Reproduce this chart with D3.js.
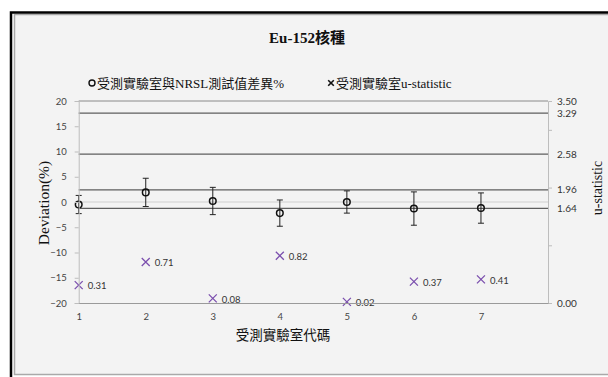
<!DOCTYPE html>
<html>
<head>
<meta charset="utf-8">
<script src="https://cdn.jsdelivr.net/npm/d3@7/dist/d3.min.js"></script>
<style>
  html, body { margin: 0; padding: 0; background: #fff; }
  svg { display: block; }
</style>
</head>
<body>
<svg id="chart" width="608" height="377"></svg>
<script>
// Laboratory codes
const labs = [1, 2, 3, 4, 5, 6, 7];
// Deviation (%) of each lab from the NRSL value, with its uncertainty
const deviation = [-0.5, 1.9, 0.2, -2.2, 0.0, -1.3, -1.2];
const devError = [1.8, 2.8, 2.7, 2.6, 2.2, 3.3, 3.0];
// u-statistic of each lab
const uStat = [0.31, 0.71, 0.08, 0.82, 0.02, 0.37, 0.41];
// Left axis ticks
const devTicks = [-20, -15, -10, -5, 0, 5, 10, 15, 20];
// Reference u-statistic levels drawn as horizontal lines
const uLevels = [3.29, 2.58, 1.96, 1.64];
// Right axis labels
const uLabels = [3.50, 3.29, 2.58, 1.96, 1.64, 0.00];
const uTicks = [0, 1, 2, 3];

const serif = "'Liberation Serif', 'Times New Roman', 'Noto Sans CJK TC', serif";
const sans = "Lato, 'Open Sans', 'Liberation Sans', sans-serif";

const svg = d3.select("#chart");

// Frame
svg.append("rect").attr("x", 14.5).attr("y", 14.5).attr("width", 600).attr("height", 360)
  .attr("fill", "#f3f3f3").attr("stroke", "#a9a9a9").attr("stroke-width", 1.5);
svg.append("path").attr("d", "M11,377 V12.5 H608")
  .attr("fill", "none").attr("stroke", "#000").attr("stroke-width", 2.5);

const x = d3.scaleLinear().domain([1, 8]).range([78.7, 548]);
const y = d3.scaleLinear().domain([-20, 20]).range([303, 101]);
const yU = d3.scaleLinear().domain([0, 3.5]).range([303, 101]);

const plot = svg.append("g");

// Zero gridline
plot.append("line").attr("x1", x(1)).attr("x2", x(8)).attr("y1", y(0)).attr("y2", y(0))
  .attr("stroke", "#cfcfcf").attr("stroke-width", 1);

// Top border of the plot at 3.50
plot.append("line").attr("x1", x(1)).attr("x2", x(8)).attr("y1", yU(3.5)).attr("y2", yU(3.5))
  .attr("stroke", "#8a8a8a").attr("stroke-width", 1);

// u-statistic reference levels
plot.selectAll("line.level").data(uLevels).join("line").attr("class", "level")
  .attr("x1", x(1)).attr("x2", x(8))
  .attr("y1", d => yU(d)).attr("y2", d => yU(d))
  .attr("stroke", "#5e5e5e").attr("stroke-width", 1.1);

// Left axis
const leftAxis = d3.axisLeft(y).tickValues(devTicks).tickSize(4).tickPadding(8);
const gL = svg.append("g").attr("transform", `translate(${x(1)},0)`).call(leftAxis);
gL.select(".domain").attr("stroke", "#bdbdbd");
gL.selectAll(".tick line").attr("stroke", "#bdbdbd");
gL.selectAll(".tick text").attr("font-family", sans).attr("font-size", 9.5).attr("fill", "#444");

// Right axis
const rightAxis = d3.axisRight(yU).tickValues(uTicks).tickSize(4).tickFormat("");
const gR = svg.append("g").attr("transform", `translate(${x(8)},0)`).call(rightAxis);
gR.select(".domain").attr("stroke", "#bdbdbd");
gR.selectAll(".tick line").attr("stroke", "#bdbdbd");
svg.append("g").selectAll("text").data(uLabels).join("text")
  .attr("x", x(8) + 9).attr("y", d => yU(d)).attr("dy", "0.35em")
  .attr("font-family", sans).attr("font-size", 10).attr("fill", "#333")
  .text(d => d.toFixed(2));

// Bottom axis
const bottomAxis = d3.axisBottom(x).tickValues(labs).tickSize(0).tickPadding(10).tickFormat(d3.format("d"));
const gB = svg.append("g").attr("transform", `translate(0,${y(-20)})`).call(bottomAxis);
gB.select(".domain").attr("stroke", "#9a9a9a");
gB.selectAll(".tick text").attr("font-family", sans).attr("font-size", 9.5).attr("fill", "#444");

// Error bars
const errG = plot.append("g").attr("stroke", "#222").attr("stroke-width", 1);
labs.forEach((lab, i) => {
  const cx = x(lab);
  const top = y(deviation[i] + devError[i]);
  const bot = y(deviation[i] - devError[i]);
  errG.append("line").attr("x1", cx).attr("x2", cx).attr("y1", top).attr("y2", bot);
  errG.append("line").attr("x1", cx - 3).attr("x2", cx + 3).attr("y1", top).attr("y2", top);
  errG.append("line").attr("x1", cx - 3).attr("x2", cx + 3).attr("y1", bot).attr("y2", bot);
});

// Deviation markers
plot.selectAll("circle.dev").data(labs).join("circle").attr("class", "dev")
  .attr("cx", d => x(d)).attr("cy", (d, i) => y(deviation[i])).attr("r", 3.3)
  .attr("fill", "none").attr("stroke", "#111").attr("stroke-width", 1.5);

// u-statistic markers and labels
const crossPath = s => `M${-s},${-s}L${s},${s}M${-s},${s}L${s},${-s}`;
plot.selectAll("path.u").data(labs).join("path").attr("class", "u")
  .attr("transform", (d, i) => `translate(${x(d)},${yU(uStat[i])})`)
  .attr("d", crossPath(4)).attr("stroke", "#7b4fae").attr("stroke-width", 1.3).attr("fill", "none");
plot.selectAll("text.ulab").data(labs).join("text").attr("class", "ulab")
  .attr("x", d => x(d) + 9).attr("y", (d, i) => yU(uStat[i]) + 1).attr("dy", "0.35em")
  .attr("font-family", sans).attr("font-size", 9.5).attr("fill", "#333")
  .text((d, i) => uStat[i].toFixed(2));

// Title
svg.append("text").attr("x", 307).attr("y", 43).attr("text-anchor", "middle")
  .attr("font-family", serif).attr("font-size", 15).attr("font-weight", "bold").attr("fill", "#111")
  .text("Eu-152核種");

// Legend
const legend = svg.append("g").attr("font-family", serif).attr("font-size", 13).attr("fill", "#111");
legend.append("circle").attr("cx", 92).attr("cy", 83).attr("r", 3)
  .attr("fill", "none").attr("stroke", "#111").attr("stroke-width", 1.4);
legend.append("text").attr("x", 97).attr("y", 88).text("受測實驗室與NRSL測試值差異%");
legend.append("path").attr("transform", "translate(331,83)").attr("d", crossPath(2.8))
  .attr("stroke", "#111").attr("stroke-width", 1.6);
legend.append("text").attr("x", 336).attr("y", 88).text("受測實驗室u-statistic");

// Axis titles
svg.append("text").attr("transform", "translate(49,203) rotate(-90)").attr("text-anchor", "middle")
  .attr("font-family", serif).attr("font-size", 15.5).attr("fill", "#111").text("Deviation(%)");
svg.append("text").attr("transform", "translate(602,188) rotate(-90)").attr("text-anchor", "middle")
  .attr("font-family", serif).attr("font-size", 14).attr("fill", "#111").text("u-statistic");
svg.append("text").attr("x", 283).attr("y", 340).attr("text-anchor", "middle")
  .attr("font-family", serif).attr("font-size", 13.5).attr("fill", "#111").text("受測實驗室代碼");
</script>
</body>
</html>
